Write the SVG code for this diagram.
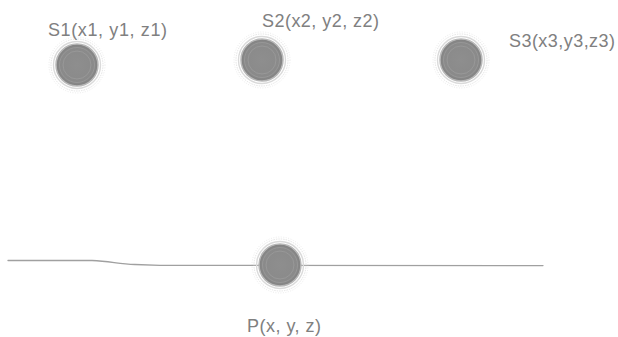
<svg xmlns="http://www.w3.org/2000/svg" width="618" height="337" viewBox="0 0 618 337">
  <style>
    .lbl { font-family: "Liberation Sans", Arial, sans-serif; font-size: 18px; fill: #808080; }
    .halo { fill: none; stroke: #cfcfcf; stroke-width: 0.8; }
    .ring { fill: none; stroke: #dadada; stroke-width: 1.4; }
    .inner { fill: none; stroke: #a6a6a6; stroke-width: 0.8; opacity: 0.6; }
    .track { fill: none; stroke: #a0a0a0; stroke-width: 1.3; stroke-linecap: round; }
  </style>
  <defs>
    <radialGradient id="disc" cx="50%" cy="50%" r="50%">
      <stop offset="0" stop-color="#8e8e8e"/>
      <stop offset="0.8" stop-color="#8a8a8a"/>
      <stop offset="1" stop-color="#828282"/>
    </radialGradient>
    <!-- one soft sphere marker, reused for every point -->
    <g id="sphere">
      <circle r="28" class="halo" stroke-dasharray="1 1.5" opacity="0.5"/>
      <circle r="26" class="halo" stroke-dasharray="1.5 1" opacity="0.7"/>
      <circle r="23.5" class="ring"/>
      <circle r="21" fill="url(#disc)" stroke="#b8b8b8" stroke-width="1.5"/>
      <circle r="17.5" class="inner"/>
      <circle r="14" class="inner" opacity="0.35"/>
    </g>
  </defs>

  <rect width="618" height="337" fill="#ffffff"/>

  <g id="connectors">
    <path class="track" d="M8 260.5 L92 260.5 C110 261 118 264 135 264.5 L160 265.3 L543 265.6"/>
  </g>

  <g id="S1">
    <use href="#sphere" x="77" y="65"/>
    <text class="lbl" x="48" y="36" textLength="119" lengthAdjust="spacing">S1(x1, y1, z1)</text>
  </g>
  <g id="S2">
    <use href="#sphere" x="262" y="60"/>
    <text class="lbl" x="262" y="27" textLength="117" lengthAdjust="spacing">S2(x2, y2, z2)</text>
  </g>
  <g id="S3">
    <use href="#sphere" x="461" y="60"/>
    <text class="lbl" x="509" y="47" textLength="106" lengthAdjust="spacing">S3(x3,y3,z3)</text>
  </g>
  <g id="P">
    <use href="#sphere" x="280" y="265"/>
    <text class="lbl" x="247" y="332" textLength="74" lengthAdjust="spacing">P(x, y, z)</text>
  </g>
</svg>
